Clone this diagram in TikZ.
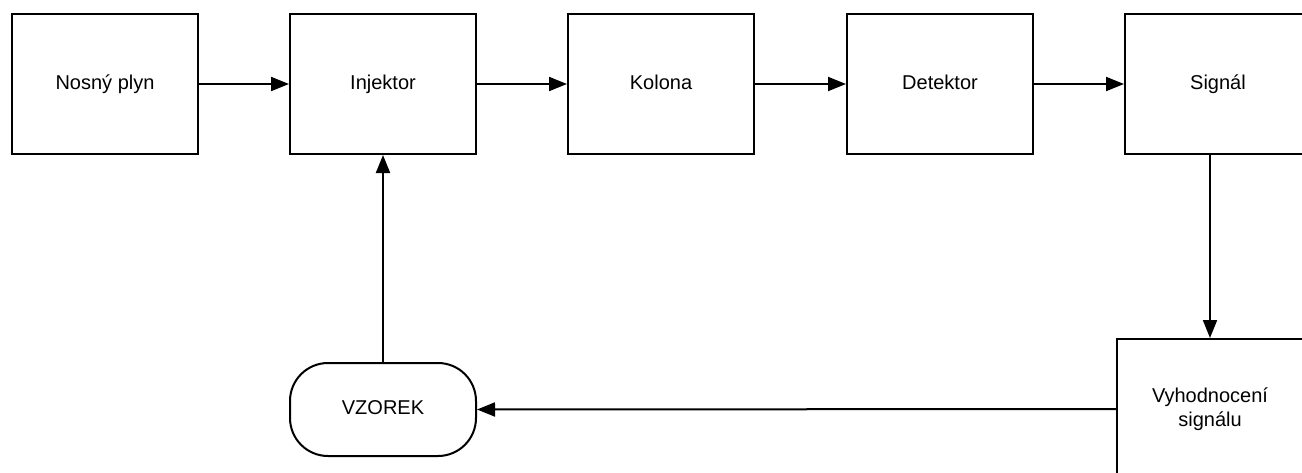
\documentclass[tikz,border=0pt]{standalone}
\usepackage{fontspec}
\setmainfont{Liberation Sans}
\usetikzlibrary{arrows.meta}
\begin{document}
\begin{tikzpicture}[x=0.5pt,y=-0.5pt,
  box/.style={draw, line width=1pt, minimum width=93pt, minimum height=70pt, inner sep=0pt, font=\fontsize{10}{12}\selectfont, align=center, text height=7.5pt, text depth=2.5pt},
  pill/.style={draw, line width=1pt, minimum width=93pt, minimum height=46.5pt, rounded corners=19pt, inner sep=0pt, font=\fontsize{10}{12}\selectfont, text height=7.5pt, text depth=2.5pt},
  conn/.style={line width=1pt, -{Triangle[length=9pt,width=7pt]}}]
\useasboundingbox (0,0) rectangle (1302,472);
\clip (0,0) rectangle (1302,472);
\node[box] (nosny) at (105,84) {Nosný plyn};
\node[box] (inj) at (383,84) {Injektor};
\node[box] (kol) at (661,84) {Kolona};
\node[box] (det) at (940,84) {Detektor};
\node[box] (sig) at (1218,84) {Signál};
\node[box, text height=, text depth=] (vyh) at (1210,409) {Vyhodnocení\\signálu};
\node[pill] (vz) at (383,409.5) {VZOREK};
\draw[conn] (nosny) -- (inj);
\draw[conn] (inj) -- (kol);
\draw[conn] (kol) -- (det);
\draw[conn] (det) -- (sig);
\draw[conn] (vyh.north |- sig.south) -- (vyh.north);
\draw[conn] (vyh.west) -- (vz.east);
\draw[conn] (vz.north) -- (inj.south);
\end{tikzpicture}
\end{document}
